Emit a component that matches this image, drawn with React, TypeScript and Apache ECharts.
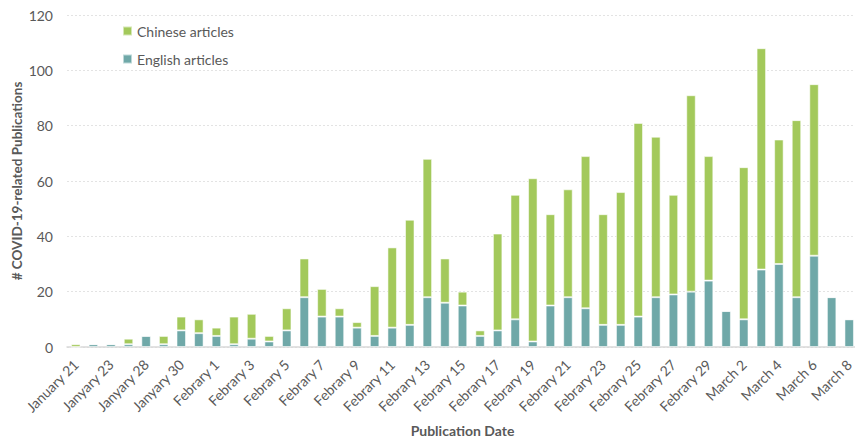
import React, { useEffect, useRef } from "react";
import * as echarts from "echarts";

const categories: string[] = [
  "January 21", "Janyary 22", "Janyary 23", "Janyary 27", "Janyary 28", "Janyary 29", "Janyary 30", "Janyary 31",
  "Febrary 1", "Febrary 2", "Febrary 3", "Febrary 4", "Febrary 5", "Febrary 6", "Febrary 7", "Febrary 8",
  "Febrary 9", "Febrary 10", "Febrary 11", "Febrary 12", "Febrary 13", "Febrary 14", "Febrary 15", "Febrary 16",
  "Febrary 17", "Febrary 18", "Febrary 19", "Febrary 20", "Febrary 21", "Febrary 22", "Febrary 23", "Febrary 24",
  "Febrary 25", "Febrary 26", "Febrary 27", "Febrary 28", "Febrary 29",
  "March 1", "March 2", "March 3", "March 4", "March 5", "March 6", "March 7", "March 8",
];

const englishArticles: number[] = [
  0, 1, 1, 1, 4, 1, 6, 5, 4, 1, 3, 2, 6, 18, 11, 11, 7, 4, 7, 8, 18, 16, 15, 4, 6,
  10, 2, 15, 18, 14, 8, 8, 11, 18, 19, 20, 24, 13, 10, 28, 30, 18, 33, 18, 10,
];

const chineseArticles: number[] = [
  1, 0, 0, 2, 0, 3, 5, 5, 3, 10, 9, 2, 8, 14, 10, 3, 2, 18, 29, 38, 50, 16, 5, 2, 35,
  45, 59, 33, 39, 55, 40, 48, 70, 58, 36, 71, 45, 0, 55, 80, 45, 64, 62, 0, 0,
];

const yTicks = { min: 0, max: 120, interval: 20 };

const FONT = "Lato, 'Open Sans', sans-serif";
const TEXT = "#595959";

export default function App() {
  const ref = useRef<HTMLDivElement>(null);

  useEffect(() => {
    if (!ref.current) return;
    const chart = echarts.init(ref.current, undefined, { renderer: "svg" });
    chart.setOption({
      animation: false,
      backgroundColor: "#ffffff",
      textStyle: { fontFamily: FONT },
      legend: {
        data: ["Chinese articles", "English articles"],
        orient: "vertical",
        left: 117,
        top: 19,
        itemWidth: 9,
        itemHeight: 9,
        itemGap: 14,
        icon: "rect",
        textStyle: { color: TEXT, fontSize: 14, fontFamily: FONT },
      },
      grid: {
        left: 67,
        right: -3,
        top: 15,
        bottom: 94,
        containLabel: false,
        outerBoundsMode: "none",
      },
      xAxis: {
        type: "category",
        data: categories,
        name: "Publication Date",
        nameLocation: "middle",
        nameGap: 76,
        nameMoveOverlap: false,
        nameTextStyle: { color: TEXT, fontSize: 14, fontWeight: "bold", fontFamily: FONT },
        axisTick: { show: false },
        axisLine: { lineStyle: { color: "#d9d9d9", width: 1.5 } },
        axisLabel: {
          interval: 1,
          rotate: 45,
          color: TEXT,
          fontSize: 14,
          margin: 15,
          fontFamily: FONT,
        },
      },
      yAxis: {
        type: "value",
        min: yTicks.min,
        max: yTicks.max,
        interval: yTicks.interval,
        name: "# COVID-19-related Publications",
        nameLocation: "middle",
        nameGap: 43,
        nameMoveOverlap: false,
        nameTextStyle: { color: TEXT, fontSize: 13.5, fontWeight: "bold", fontFamily: FONT },
        axisLabel: { color: TEXT, fontSize: 14, margin: 14, fontFamily: FONT },
        axisLine: { show: false },
        axisTick: { show: false },
        splitLine: { lineStyle: { color: "#e3e3e3", type: [2, 2], width: 1 } },
      },
      series: [
        {
          name: "English articles",
          type: "bar",
          stack: "total",
          data: englishArticles,
          barWidth: 9.5,
          itemStyle: { color: "#6fa8a8", borderColor: "rgba(255,255,255,0.55)", borderWidth: 1 },
        },
        {
          name: "Chinese articles",
          type: "bar",
          stack: "total",
          data: chineseArticles,
          barWidth: 9.5,
          itemStyle: { color: "#a3c95b", borderColor: "rgba(255,255,255,0.55)", borderWidth: 1 },
        },
      ],
    });
    return () => chart.dispose();
  }, []);

  return (
    <div
      ref={ref}
      style={{ position: "fixed", left: 0, top: 0, width: 855, height: 441, background: "#fff" }}
    />
  );
}
